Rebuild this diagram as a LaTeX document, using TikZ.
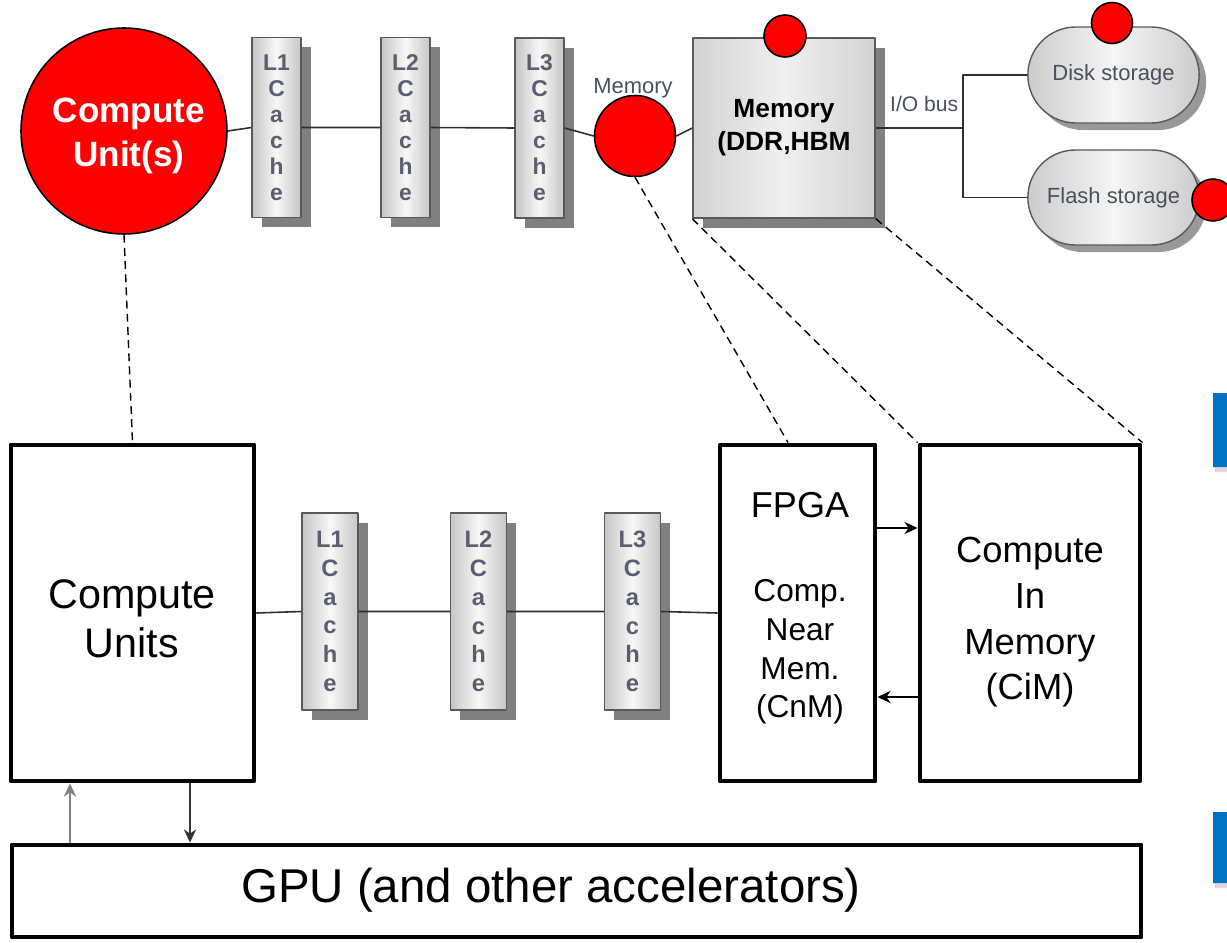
\documentclass[tikz,border=0pt]{standalone}
\usepackage{fontspec}
\setmainfont{Liberation Sans}
\usetikzlibrary{shapes.misc,shadows,arrows.meta}
\definecolor{cubered}{HTML}{FF0000}
\definecolor{cachetext}{HTML}{5A5E70}
\definecolor{labeltext}{HTML}{4A505C}
\definecolor{barblue}{HTML}{0070C0}
\def\pxu{0.02cm}
\tikzset{
  box/.style={draw, line width=2.8pt, fill=white, inner sep=0pt, align=center},
  cache/.style={draw=gray!70!black, line width=0.7pt, left color=gray!45, right color=gray!45, middle color=gray!6,
    drop shadow={shadow xshift=5.5pt, shadow yshift=-5.5pt, fill=gray, opacity=1}, text=cachetext, align=center, inner sep=0pt},
  store/.style={rounded rectangle, draw=gray!70!black, line width=0.8pt, left color=gray!40, right color=gray!40, middle color=gray!8,
    drop shadow={shadow xshift=4pt, shadow yshift=-4pt, fill=gray!80, opacity=1}, text=labeltext, font=\fontsize{12.5}{15}\selectfont},
  reddot/.style={circle, draw, line width=0.9pt, fill=cubered, inner sep=0pt},
  wire/.style={line width=0.9pt, draw=gray!35!black},
  link/.style={line width=0.8pt, dash pattern=on 4.5pt off 3pt},
  arr/.style={-{Stealth[length=7.5pt,width=7pt]}, line width=0.9pt},
}
\begin{document}
\begin{tikzpicture}[x=0.02cm, y=-0.02cm, line join=round]
\useasboundingbox (0,0) rectangle (1227,943);
% top row: hierarchy
\node[reddot, minimum size=206*\pxu] (cut) at (124,131) {};
\node[text=white, align=center, font=\bfseries\fontsize{20}{25}\selectfont] (cutlbl) at (129,135.5) {Compute\\Unit(s)};
\node[cache, minimum width=49*\pxu, minimum height=180*\pxu, font=\bfseries\fontsize{13}{14.8}\selectfont] (l1t) at (276.5,127.5) {L1\\C\\a\\c\\h\\e};
\node[cache, minimum width=49*\pxu, minimum height=180*\pxu, font=\bfseries\fontsize{13}{14.8}\selectfont] (l2t) at (405.5,127.5) {L2\\C\\a\\c\\h\\e};
\node[cache, minimum width=49*\pxu, minimum height=180*\pxu, font=\bfseries\fontsize{13}{14.8}\selectfont] (l3t) at (539.5,128) {L3\\C\\a\\c\\h\\e};
\node[reddot, minimum size=81*\pxu] (memc) at (635,136) {};
\node[text=labeltext, font=\fontsize{12.5}{15}\selectfont] (memlbl) at (633,88) {Memory};
\node[draw=gray!70!black, line width=0.8pt, left color=gray!35, right color=gray!35, middle color=gray!12,
  drop shadow={shadow xshift=5.5pt, shadow yshift=-5.5pt, fill=gray, opacity=1},
  minimum width=182*\pxu, minimum height=180*\pxu, align=center, font=\bfseries\fontsize{15}{18.7}\selectfont] (mem) at (784,128) {Memory\\(DDR,HBM};
\node[reddot, minimum size=42*\pxu] (memdot) at (785,36) {};
\node[store, minimum width=183*\pxu, minimum height=96*\pxu] (disk) at (1113.5,75) {Disk storage};
\node[store, minimum width=183*\pxu, minimum height=95*\pxu] (flash) at (1113.5,197.5) {Flash storage};
\node[reddot, minimum size=41*\pxu] (diskdot) at (1112,23) {};
\node[reddot, minimum size=42*\pxu] (flashdot) at (1213,200) {};
\coordinate (iobus) at (963,128);
\draw[wire] (cut.east) -- (l1t.west) (l1t.east) -- (l2t.west) (l2t.east) -- (l3t.west)
  (l3t.east) -- (memc.west) (memc.east) -- (mem.west);
\draw[wire] (mem.east) -- (iobus) |- (disk.west) (iobus) |- (flash.west);
\node[text=labeltext, font=\fontsize{12}{14}\selectfont, anchor=west] (iolbl) at (884,104) {I/O bus};
% bottom row: architecture
\node[box, minimum width=243*\pxu, minimum height=336*\pxu] (cub) at (132.5,613) {};
\node[align=center, font=\fontsize{23.5}{28}\selectfont] (cublbl) at (132,619) {Compute\\Units};
\node[cache, minimum width=56*\pxu, minimum height=197*\pxu, font=\bfseries\fontsize{13.5}{16.4}\selectfont] (l1b) at (330,611.5) {L1\\C\\a\\c\\h\\e};
\node[cache, minimum width=56*\pxu, minimum height=197*\pxu, font=\bfseries\fontsize{13.5}{16.4}\selectfont] (l2b) at (478.5,611.5) {L2\\C\\a\\c\\h\\e};
\node[cache, minimum width=56*\pxu, minimum height=197*\pxu, font=\bfseries\fontsize{13.5}{16.4}\selectfont] (l3b) at (632.5,611.5) {L3\\C\\a\\c\\h\\e};
\node[box, minimum width=155*\pxu, minimum height=336*\pxu] (fpga) at (797.5,613) {};
\node[font=\fontsize{20.5}{24}\selectfont] (fpgalbl) at (800,505) {FPGA};
\node[align=center, font=\fontsize{18}{22}\selectfont] (cnm) at (800,652) {Comp.\\Near\\Mem.\\(CnM)};
\node[box, minimum width=220*\pxu, minimum height=336*\pxu] (cim) at (1030,613) {};
\node[align=center, font=\fontsize{20.7}{26}\selectfont] (cimlbl) at (1030,622.5) {Compute\\In\\Memory\\(CiM)};
\node[box, minimum width=1129*\pxu, minimum height=92*\pxu] (gpu) at (576.5,891) {};
\node[font=\fontsize{27}{30}\selectfont] (gpulbl) at (551,890) {GPU (and other accelerators)};
\draw[wire] (cub.east) -- (l1b.west) (l1b.east) -- (l2b.west) (l2b.east) -- (l3b.west) (l3b.east) -- (fpga.west);
\draw[arr] (fpga.east |- 0,528) -- (cim.west |- 0,528);
\draw[arr] (cim.west |- 0,697) -- (fpga.east |- 0,697);
\draw[arr, gray] (gpu.north -| 70,0) -- (cub.south -| 70,0);
\draw[arr, black!80] (cub.south -| 190,0) -- (gpu.north -| 190,0);
% dashed correspondences
\draw[link] (cut.south) -- (cub.north);
\draw[link] (memc.south) -- (fpga.north -| 788,0);
\draw[link] (mem.south west) -- (cim.north west);
\draw[link] (mem.south east) -- (cim.north east);
% side bars
\fill[gray!30] (1215,467) rectangle (1227,472) (1215,883) rectangle (1227,888);
\fill[barblue] (1213,393) rectangle (1227,467) (1213,812) rectangle (1227,883);
\end{tikzpicture}
\end{document}
